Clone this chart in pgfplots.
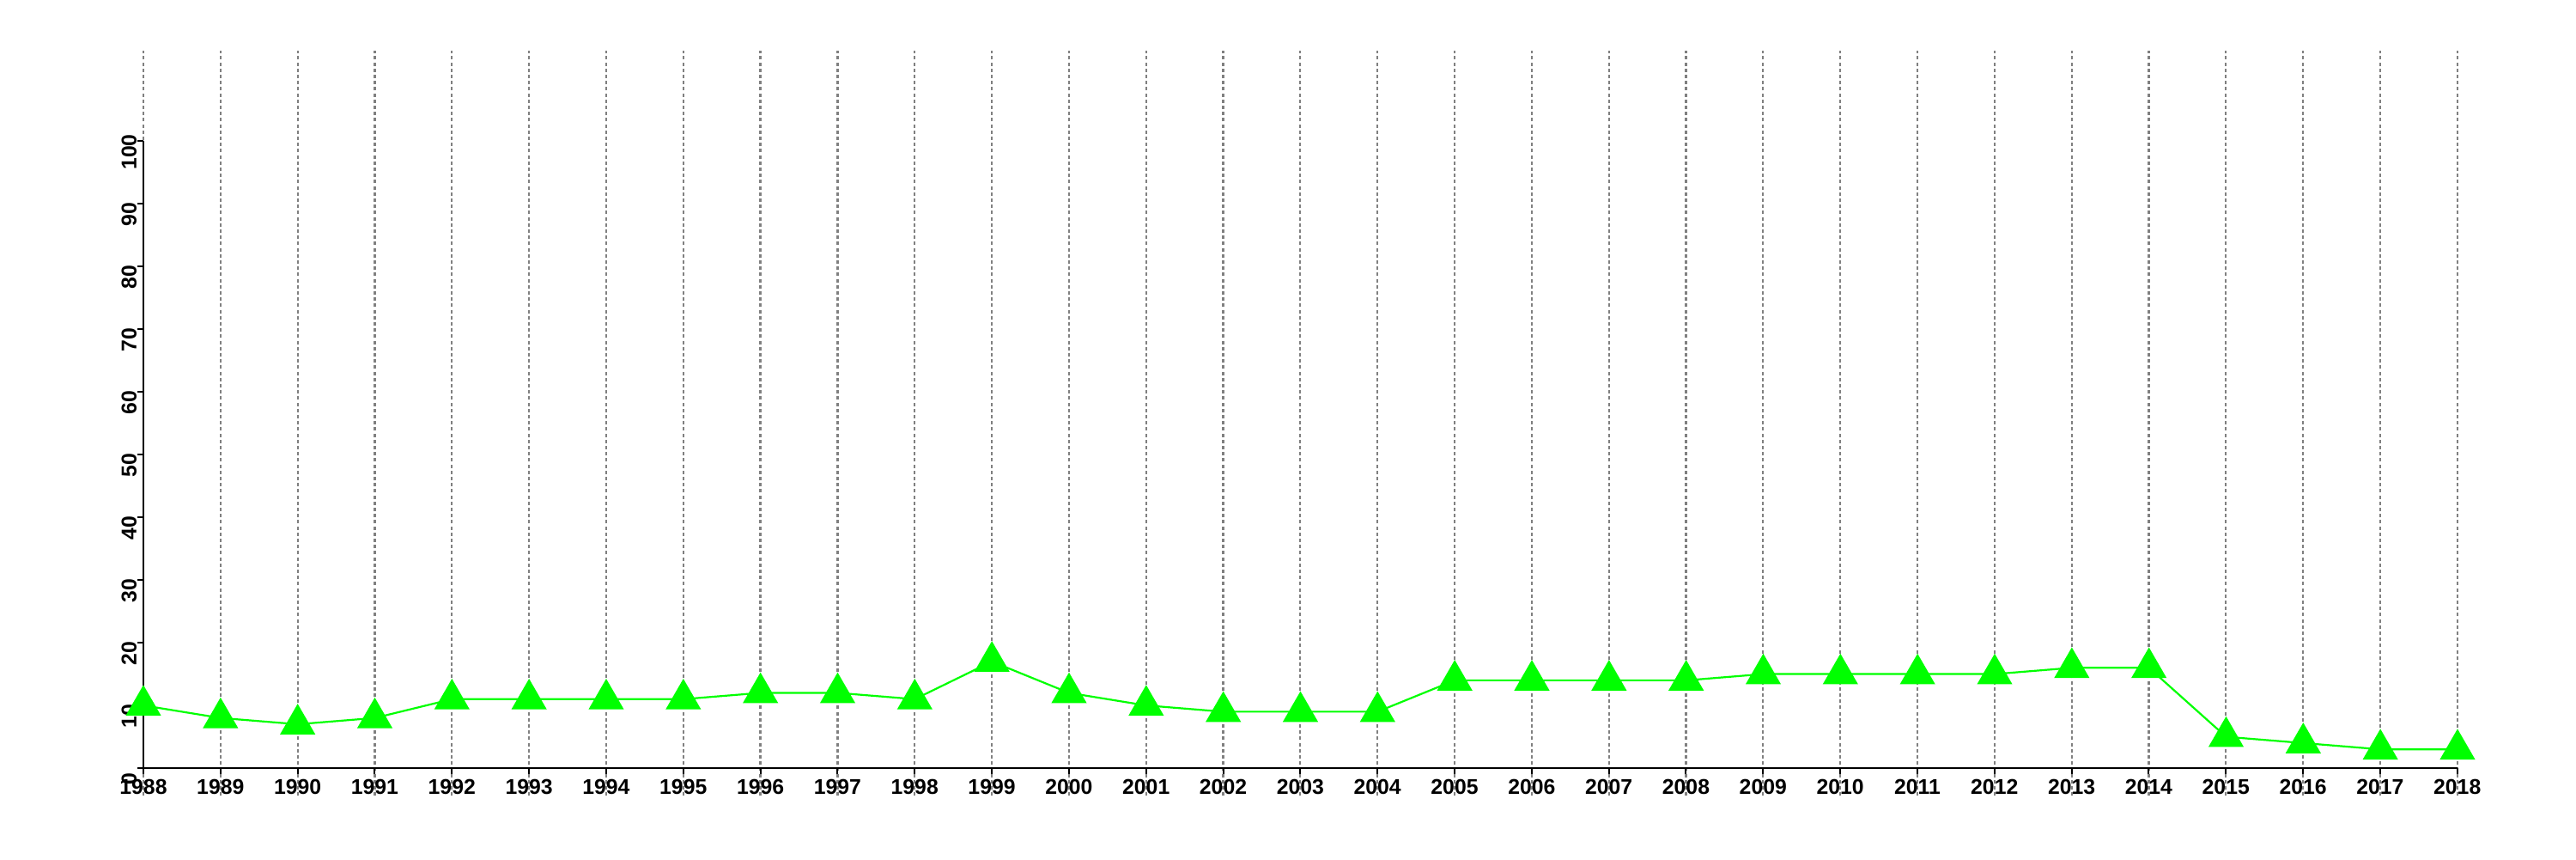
\documentclass[border=0pt]{standalone}
\usepackage{fontspec}
\setmainfont{Liberation Sans}
\usepackage{pgfplots}
\pgfplotsset{compat=1.18}
\definecolor{lgreen}{RGB}{0,255,0}
\definecolor{gridgray}{RGB}{128,128,128}

\begin{document}
\begin{tikzpicture}
\begin{axis}[
    scale only axis,
    width=673.75pt, height=216.8pt,
    xmin=1988, xmax=2018,
    ymin=-4.4, ymax=114.4,
    clip=false,
    axis x line=middle,
    axis y line=left,
    x axis line style={-, line width=0.5pt},
    y axis line style={draw=none},
    hide obscured x ticks=false,
    hide obscured y ticks=false,
    xtick={1988,1989,...,2018},
    ytick={0,10,...,100},
    xmajorgrids,
    major grid style={gridgray, line width=0.55pt, dash pattern=on 1pt off 0.8pt},
    tick align=outside,
    major tick length=1.75pt,
    tick style={black, line width=0.5pt},
    /pgf/number format/1000 sep={},
    /pgf/number format/assume math mode=true,
    tick label style={font=\fontsize{6.2}{7}\selectfont\bfseries},
    xticklabel style={anchor=north, inner sep=0pt, yshift=-1.2pt},
    yticklabel style={rotate=90, anchor=south, inner sep=0pt, xshift=-3.2pt},
]
\draw[black, line width=0.5pt] (axis cs:1988,0) -- (axis cs:1988,100);
\addplot[lgreen, line width=0.55pt, mark=triangle*, mark size=5.4pt,
    mark options={fill=lgreen, draw=none}] coordinates {
    (1988,10) (1989,8) (1990,7) (1991,8) (1992,11) (1993,11) (1994,11)
    (1995,11) (1996,12) (1997,12) (1998,11) (1999,17) (2000,12) (2001,10)
    (2002,9) (2003,9) (2004,9) (2005,14) (2006,14) (2007,14) (2008,14)
    (2009,15) (2010,15) (2011,15) (2012,15) (2013,16) (2014,16) (2015,5)
    (2016,4) (2017,3) (2018,3)
};
\end{axis}
\pgfresetboundingbox
\path (-41.75pt,-18.45pt) rectangle (708.25pt,231.55pt);
\end{tikzpicture}
\end{document}
